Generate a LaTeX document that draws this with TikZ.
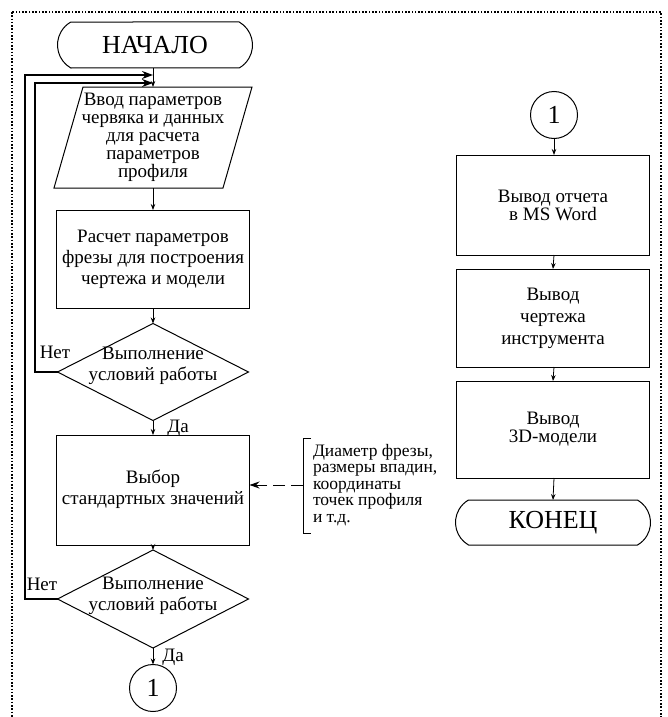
\documentclass[tikz,border=0pt]{standalone}
\usepackage{fontspec}
\setmainfont{Liberation Serif}
\usetikzlibrary{shapes.geometric,shapes.misc,arrows.meta,calc}

\begin{document}
\begin{tikzpicture}[x=1pt,y=-1pt,
  every node/.style={inner sep=0pt, outer sep=0pt},
  txt/.style={align=center, font=\fontsize{19}{21}\selectfont},
  box/.style={draw, line width=1pt, txt, minimum width=193pt},
  term/.style={draw, line width=1pt, rounded rectangle, rounded rectangle arc length=120,
    minimum width=195pt, minimum height=46pt, font=\fontsize{26}{30}\selectfont},
  decision/.style={draw, line width=1pt, diamond, minimum width=191pt, minimum height=97pt},
  conn/.style={draw, circle, line width=1pt, minimum size=47pt, font=\fontsize{26}{28}\selectfont},
  flow/.style={line width=0.8pt, -{Stealth[length=6pt,width=4.5pt]}},
  back/.style={line width=1.6pt, -{Stealth[length=11pt,width=8pt]}},
  lbl/.style={font=\fontsize{19}{21}\selectfont},
]
\useasboundingbox (0,0) rectangle (667,717);

% frame
\draw[line width=2pt, dash pattern=on 1.6pt off 1.7pt] (12,12) rectangle (661,740);

% left column
\node[term] (start) at (155,45) {НАЧАЛО};
\node[minimum width=169pt, minimum height=101pt, txt, font=\fontsize{19}{18}\selectfont] (inp) at (153,137.5)
  {Ввод параметров\\червяка и данных\\для расчета\\параметров\\профиля};
\draw[line width=1pt] ([xshift=14.5pt]inp.north west) -- ([xshift=14.5pt]inp.north east)
  -- ([xshift=-14.5pt]inp.south east) -- ([xshift=-14.5pt]inp.south west) -- cycle;
\node[box, minimum height=98pt] (calc) at (153,259)
  {Расчет параметров\\фрезы для построения\\чертежа и модели};
\node[decision, label={[name=d1t, txt, yshift=6pt]center:Выполнение\\условий работы}] (d1) at (153,372) {};
\node[box, minimum height=110pt] (sel) at (153,490)
  {\raisebox{6pt}{\begin{tabular}{@{}c@{}}Выбор\\стандартных значений\end{tabular}}};
\node[decision, minimum height=98pt, label={[name=d2t, txt, yshift=3pt]center:Выполнение\\условий работы}] (d2) at (153,599) {};
\node[conn] (c1) at (153,688) {1};

% side note
\coordinate (br) at (303,485);
\draw[line width=1pt] (311,438) -- (303,438) -- (303,533) -- (311,533);
\node[anchor=west, align=left, font=\fontsize{17.5}{16.5}\selectfont] (note) at (313,485)
  {Диаметр фрезы,\\размеры впадин,\\координаты\\точек профиля\\и т.д.};
\draw[line width=1pt, dash pattern=on 12pt off 6pt, -{Stealth[length=10pt,width=7pt]}] (br) -- (br -| sel.east);

% right column
\node[conn] (c2) at (554,115) {1};
\node[box, minimum height=100pt, font=\fontsize{19}{18}\selectfont] (out1) at (553,205) {Вывод отчета\\в MS Word};
\node[box, minimum height=98pt, font=\fontsize{19}{22}\selectfont] (out2) at (553,318) {Вывод\\чертежа\\инструмента};
\node[box, minimum height=97pt, font=\fontsize{19}{18}\selectfont] (out3) at (553,429.5) {Вывод\\3D-модели};
\node[term, minimum height=45pt] (end) at (553,522.5) {КОНЕЦ};

% main flow
\draw[flow] (start.south -| inp.north) -- (inp.north);
\draw[flow] (inp.south) -- (calc.north);
\draw[flow] (calc.south) -- (d1.north);
\draw[flow] (d1.south) -- (sel.north);
\draw[flow] (sel.south) -- (d2.north);
\draw[flow] (d2.south) -- (c1.north);
\draw[flow] (c2.south) -- (c2.south |- out1.north);
\draw[flow] (out1.south -| c2.south) -- (out1.north |- out2.north);
\draw[flow] (out2.south -| c2.south) -- (out2.north |- out3.north);
\draw[flow] (out3.south -| c2.south) -- (out3.north |- end.north);

% return branches
\coordinate (lx1) at (35,0);
\coordinate (lx2) at (25,0);
\draw[back] (d1.west) -- (d1.west -| lx1) |- ([yshift=4pt]inp.north);
\draw[back] (d2.west) -- (d2.west -| lx2) |- ([yshift=12pt]inp.north);

% branch labels
\node[lbl] (no1) at (55,352) {Нет};
\node[lbl] (yes1) at (178,428) {Да};
\node[lbl] (no2) at (42,584) {Нет};
\node[lbl] (yes2) at (173,657) {Да};
\end{tikzpicture}
\end{document}
